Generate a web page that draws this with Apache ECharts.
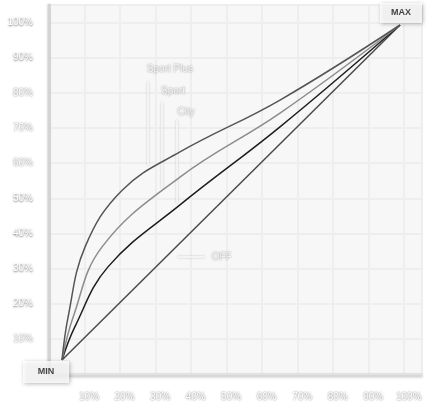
<!DOCTYPE html>
<html>
<head>
<meta charset="utf-8">
<script src="https://cdn.jsdelivr.net/npm/echarts@6/dist/echarts.min.js"></script>
<style>
  html, body { margin: 0; padding: 0; background: #fff; }
  #chart { width: 427px; height: 407px; }
</style>
</head>
<body>
<div id="chart"></div>
<script>
// tick values on both axes (percent)
const tickValues = [10, 20, 30, 40, 50, 60, 70, 80, 90, 100];

// throttle curves, [pedal %, response %]
const sportPlus = [[0, 0], [1.8, 12.8], [6.8, 33.7], [17.8, 50.7], [34.9, 62.1], [64.5, 77.6], [100, 100]];
const sport = [[0, 0], [3.3, 12.8], [11.8, 33.7], [34.9, 54.6], [64.5, 73.7], [100, 100]];
const city = [[0, 0], [3.8, 9.9], [13.6, 27.8], [34.9, 46.3], [64.5, 69.6], [100, 100]];
const off = [[0, 0], [100, 100]];

// curve annotations
const modeNames = ['Sport Plus', 'Sport', 'City', 'OFF'];
const pointerFrom = [[25.4, 83.0], [29.6, 77.0], [34.0, 71.6], [34.3, 30.7]];
const pointerTo = [[25.4, 58.2], [29.6, 51.3], [34.0, 46.9], [42.3, 30.7]];
const labelAt = [[25.1, 86.9], [29.3, 80.3], [34.1, 74.0], [44.3, 30.7]];

const chart = echarts.init(document.getElementById('chart'));

const embossText = {
  color: '#fff',
  fontFamily: 'Liberation Sans',
  fontSize: 10,
  textShadowColor: 'rgba(0,0,0,0.6)',
  textShadowBlur: 2,
  textShadowOffsetY: 0.5
};

const pctFmt = (v) => (tickValues.indexOf(v) >= 0 ? v + '%' : '');

const curve = (name, data, color) => ({
  name: name,
  type: 'line',
  xAxisIndex: 1,
  yAxisIndex: 1,
  data: data,
  smooth: 0.4,
  showSymbol: false,
  lineStyle: { color: color, width: 1.5 },
  z: 5
});

const option = {
  backgroundColor: '#fff',
  animation: false,
  grid: [
    {
      left: 49, right: 5, top: 5, bottom: 33,
      show: true, backgroundColor: '#f7f7f7', borderWidth: 0
    },
    { left: 62, right: 27, top: 25, bottom: 47 }
  ],
  xAxis: [
    {
      type: 'value', gridIndex: 0, min: 0, max: 105, interval: 10,
      axisLine: {
        show: true,
        lineStyle: { color: '#e2e2e2', width: 2, shadowColor: 'rgba(0,0,0,0.3)', shadowBlur: 3, shadowOffsetY: 2 }
      },
      axisTick: { show: false },
      axisLabel: Object.assign({ margin: 18, padding: [0, 0, 0, 9], formatter: pctFmt }, embossText),
      splitLine: { show: true, lineStyle: { color: '#eeeeee', width: 2 } }
    },
    { type: 'value', gridIndex: 1, min: 0, max: 100, show: false }
  ],
  yAxis: [
    {
      type: 'value', gridIndex: 0, min: 0, max: 105, interval: 10,
      axisLine: {
        show: true,
        lineStyle: { color: '#d4d4d4', width: 3, shadowColor: 'rgba(0,0,0,0.15)', shadowBlur: 2, shadowOffsetX: -1 }
      },
      axisTick: { show: false },
      axisLabel: Object.assign({ margin: 16, formatter: pctFmt }, embossText),
      splitLine: { show: true, lineStyle: { color: '#eeeeee', width: 2 } }
    },
    { type: 'value', gridIndex: 1, min: 0, max: 100, show: false }
  ],
  series: [
    curve('OFF', off, '#4a4a4a'),
    curve('City', city, '#1e1e1e'),
    curve('Sport', sport, '#8c8c8c'),
    curve('Sport Plus', sportPlus, '#555'),
    {
      type: 'lines',
      coordinateSystem: 'cartesian2d',
      xAxisIndex: 1,
      yAxisIndex: 1,
      data: pointerFrom.map((p, i) => ({ coords: [p, pointerTo[i]] })),
      lineStyle: { color: '#fff', width: 1.5, opacity: 1, shadowColor: 'rgba(0,0,0,0.3)', shadowBlur: 2 },
      z: 4
    },
    {
      type: 'scatter',
      xAxisIndex: 1,
      yAxisIndex: 1,
      symbolSize: 0,
      clip: false,
      data: labelAt.map((p, i) => ({ value: p, name: modeNames[i] })),
      label: Object.assign({ show: true, position: 'right', distance: 0, formatter: '{b}' }, embossText),
      z: 6
    },
    {
      type: 'scatter',
      xAxisIndex: 1,
      yAxisIndex: 1,
      clip: false,
      symbol: 'rect',
      data: [
        { value: [0, 0], name: 'MIN', symbolSize: [46, 22], symbolOffset: [-16, 12] },
        { value: [100, 100], name: 'MAX', symbolSize: [42, 20], symbolOffset: [1, -12] }
      ],
      itemStyle: { color: '#fff', shadowColor: 'rgba(0,0,0,0.35)', shadowBlur: 4, shadowOffsetX: 1, shadowOffsetY: 1 },
      label: {
        show: true, position: 'inside', formatter: '{b}',
        color: '#111', fontFamily: 'Liberation Sans', fontWeight: 'bold', fontSize: 9
      },
      z: 10
    }
  ]
};

chart.setOption(option);
</script>
</body>
</html>
